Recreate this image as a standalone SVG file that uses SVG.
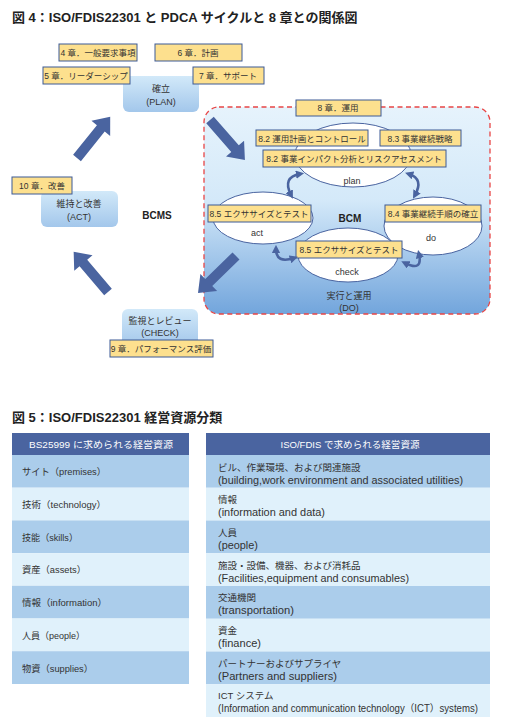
<svg xmlns="http://www.w3.org/2000/svg" width="507" height="722" viewBox="0 0 507 722">
<defs>
<linearGradient id="gNode" x1="0" y1="0" x2="0" y2="1">
<stop offset="0" stop-color="#d2e9f9"/><stop offset="1" stop-color="#a3c7eb"/>
</linearGradient>
<linearGradient id="gDo" x1="0" y1="0" x2="0" y2="1">
<stop offset="0" stop-color="#e6f3fc"/><stop offset="0.45" stop-color="#d4e9f9"/><stop offset="1" stop-color="#72a5dc"/>
</linearGradient>
<marker id="ah" viewBox="0 0 10 10" refX="5" refY="5" markerWidth="3.2" markerHeight="3.2" orient="auto-start-reverse">
<path d="M0,0 L10,5 L0,10 z" fill="#4a64a0"/>
</marker>
<polygon id="bigArrow" points="0,-5 38,-5 38,-12 53,0 38,12 38,5 0,5" fill="#4a64a0"/>
</defs>
<style>
text{font-family:"Liberation Sans","Noto Sans CJK JP",sans-serif;fill:#333}
.title{font-size:13px;font-weight:bold;fill:#222}
.lbl{font-size:8.5px;text-anchor:middle}
.nt{font-size:9px;text-anchor:middle}
.bold{font-size:10px;font-weight:bold;text-anchor:middle;fill:#222}
.yb{fill:#fde08e;stroke:#3d5a96;stroke-width:1}
.node{fill:url(#gNode)}
.ell{fill:#fff;stroke:#4a64a0;stroke-width:1}
.arc{fill:none;stroke:#4a64a0;stroke-width:2.6;marker-start:url(#ah);marker-end:url(#ah)}
.hd{fill:#4a64a0}
.ht{font-size:9.6px;fill:#fff;text-anchor:middle}
.rm{fill:#abcdeb}
.rl{fill:#e0f1fb}
.td{font-size:9.5px}
.en{font-size:10px}
</style>

<text class="title" x="12" y="22">図 4：ISO/FDIS22301 と PDCA サイクルと 8 章との関係図</text>

<g id="do-area">
<rect x="204" y="107" width="286" height="207" rx="15" fill="url(#gDo)" stroke="#e84545" stroke-width="1.3" stroke-dasharray="5,3.5"/>
<text class="nt" x="349" y="299">実行と運用</text>
<text class="nt" x="349" y="311">(DO)</text>
</g>

<g id="plan-node">
<rect class="node" x="123" y="76" width="76" height="36" rx="6"/>
<text class="nt" x="161" y="92">確立</text>
<text class="nt" x="161" y="105">(PLAN)</text>
</g>
<g id="ch4"><rect class="yb" x="59" y="44" width="78" height="17"/><text class="lbl" x="98" y="55.5">4 章．一般要求事項</text></g>
<g id="ch6"><rect class="yb" x="155" y="44" width="87" height="17"/><text class="lbl" x="198" y="55.5">6 章．計画</text></g>
<g id="ch5"><rect class="yb" x="43" y="67" width="87" height="17"/><text class="lbl" x="86" y="78.5">5 章．リーダーシップ</text></g>
<g id="ch7"><rect class="yb" x="193" y="67" width="71" height="17"/><text class="lbl" x="228" y="78.5">7 章．サポート</text></g>

<g id="act-node">
<rect class="node" x="41" y="191" width="77" height="36" rx="6"/>
<text class="nt" x="79" y="207">維持と改善</text>
<text class="nt" x="79" y="220">(ACT)</text>
</g>
<g id="ch10"><rect class="yb" x="12" y="177" width="60" height="17"/><text class="lbl" x="42" y="188.5">10 章．改善</text></g>

<g id="bcms"><text class="bold" x="157" y="219">BCMS</text></g>

<g id="check-node">
<rect class="node" x="122" y="309" width="76" height="37" rx="6"/>
<text class="nt" x="160" y="324">監視とレビュー</text>
<text class="nt" x="160" y="336">(CHECK)</text>
</g>
<g id="ch9"><rect class="yb" x="110" y="340" width="103" height="17"/><text class="lbl" x="161" y="351.5">9 章．パフォーマンス評価</text></g>

<g id="ch8"><rect class="yb" x="296" y="100" width="85" height="16"/><text class="lbl" x="338" y="111">8 章．運用</text></g>

<g id="plan-ellipse">
<ellipse class="ell" cx="353" cy="155" rx="58" ry="32"/>
<text class="nt" x="352" y="184">plan</text>
</g>
<g id="b82a"><rect class="yb" x="256" y="130" width="112" height="16"/><text class="lbl" x="312" y="141.5">8.2 運用計画とコントロール</text></g>
<g id="b83"><rect class="yb" x="380" y="130" width="81" height="16"/><text class="lbl" x="420" y="141.5">8.3 事業継続戦略</text></g>
<g id="b82b"><rect class="yb" x="263" y="150" width="183" height="17"/><text class="lbl" x="354" y="161.5">8.2 事業インパクト分析とリスクアセスメント</text></g>

<g id="act-ellipse">
<ellipse class="ell" cx="263" cy="218" rx="50" ry="26"/>
<text class="nt" x="257" y="236">act</text>
</g>
<g id="b85a"><rect class="yb" x="208" y="205" width="103" height="17"/><text class="lbl" x="259" y="216.5">8.5 エクササイズとテスト</text></g>

<g id="do-ellipse">
<ellipse class="ell" cx="433" cy="226" rx="49" ry="29"/>
<text class="nt" x="431" y="241">do</text>
</g>
<g id="b84"><rect class="yb" x="385" y="205" width="96" height="17"/><text class="lbl" x="433" y="216.5">8.4 事業継続手順の確立</text></g>

<g id="bcm"><text class="bold" x="350" y="222">BCM</text></g>

<g id="check-ellipse">
<ellipse class="ell" cx="348" cy="255" rx="50" ry="27"/>
<text class="nt" x="347" y="275">check</text>
</g>
<g id="b85b"><rect class="yb" x="296" y="241" width="106" height="17"/><text class="lbl" x="349" y="252.5">8.5 エクササイズとテスト</text></g>

<g id="connectors">
<use href="#bigArrow" transform="translate(210,120) rotate(48.8)"/>
<use href="#bigArrow" transform="translate(236,256) rotate(135.8)"/>
<use href="#bigArrow" transform="translate(108,292) rotate(229.6)"/>
<use href="#bigArrow" transform="translate(77,158) rotate(-51.2)"/>
<path class="arc" d="M291,195 Q282,177 300,174"/>
<path class="arc" d="M409,174 Q424,179 415,195"/>
<path class="arc" d="M276,249 Q276,264 294,258"/>
<path class="arc" d="M405,263 Q423,272 419,254"/>
</g>

<text class="title" x="12" y="422">図 5：ISO/FDIS22301 経営資源分類</text>

<g id="table-bs25999">
<rect class="hd" x="12" y="433" width="177" height="22"/>
<text class="ht" x="101" y="447.5" textLength="144" lengthAdjust="spacingAndGlyphs">BS25999 に求められる経営資源</text>
<rect class="rm" x="12" y="455" width="177" height="32.7"/>
<rect class="rl" x="12" y="487.7" width="177" height="32.7"/>
<rect class="rm" x="12" y="520.4" width="177" height="32.7"/>
<rect class="rl" x="12" y="553.1" width="177" height="32.7"/>
<rect class="rm" x="12" y="585.8" width="177" height="32.7"/>
<rect class="rl" x="12" y="618.5" width="177" height="32.7"/>
<rect class="rm" x="12" y="651.2" width="177" height="32.8"/>
<text class="td" x="22" y="475" textLength="84" lengthAdjust="spacingAndGlyphs">サイト（premises）</text>
<text class="td" x="22" y="508" textLength="84" lengthAdjust="spacingAndGlyphs">技術（technology）</text>
<text class="td" x="22" y="540.5" textLength="56" lengthAdjust="spacingAndGlyphs">技能（skills）</text>
<text class="td" x="22" y="573" textLength="64" lengthAdjust="spacingAndGlyphs">資産（assets）</text>
<text class="td" x="22" y="606" textLength="85" lengthAdjust="spacingAndGlyphs">情報（information）</text>
<text class="td" x="22" y="638.5" textLength="63" lengthAdjust="spacingAndGlyphs">人員（people）</text>
<text class="td" x="22" y="671.5" textLength="71" lengthAdjust="spacingAndGlyphs">物資（supplies）</text>
</g>

<g id="table-iso">
<rect class="hd" x="206" y="433" width="284" height="22"/>
<text class="ht" x="350" y="447.5" textLength="139" lengthAdjust="spacingAndGlyphs">ISO/FDIS で求められる経営資源</text>
<rect class="rm" x="206" y="455" width="284" height="32.75"/>
<rect class="rl" x="206" y="487.75" width="284" height="32.75"/>
<rect class="rm" x="206" y="520.5" width="284" height="32.75"/>
<rect class="rl" x="206" y="553.25" width="284" height="32.75"/>
<rect class="rm" x="206" y="586" width="284" height="32.75"/>
<rect class="rl" x="206" y="618.75" width="284" height="32.75"/>
<rect class="rm" x="206" y="651.5" width="284" height="32.75"/>
<rect class="rl" x="206" y="684.25" width="284" height="32.75"/>
<text class="td" x="218" y="470.5">ビル、作業環境、および関連施設</text>
<text class="td en" x="218" y="483.5" textLength="245" lengthAdjust="spacingAndGlyphs">(building,work environment and associated utilities)</text>
<text class="td" x="218" y="503">情報</text>
<text class="td en" x="218" y="516" textLength="107" lengthAdjust="spacingAndGlyphs">(information and data)</text>
<text class="td" x="218" y="535.5">人員</text>
<text class="td en" x="218" y="548.5" textLength="40" lengthAdjust="spacingAndGlyphs">(people)</text>
<text class="td" x="218" y="568.5">施設・設備、機器、および消耗品</text>
<text class="td en" x="218" y="581.5" textLength="191" lengthAdjust="spacingAndGlyphs">(Facilities,equipment and consumables)</text>
<text class="td" x="218" y="601">交通機関</text>
<text class="td en" x="218" y="614" textLength="76" lengthAdjust="spacingAndGlyphs">(transportation)</text>
<text class="td" x="218" y="634">資金</text>
<text class="td en" x="218" y="647" textLength="43" lengthAdjust="spacingAndGlyphs">(finance)</text>
<text class="td" x="218" y="666.5">パートナーおよびサプライヤ</text>
<text class="td en" x="218" y="679.5" textLength="119" lengthAdjust="spacingAndGlyphs">(Partners and suppliers)</text>
<text class="td" x="218" y="699">ICT システム</text>
<text class="td en" x="218" y="712" textLength="260" lengthAdjust="spacingAndGlyphs">(Information and communication technology（ICT）systems)</text>
</g>
</svg>
